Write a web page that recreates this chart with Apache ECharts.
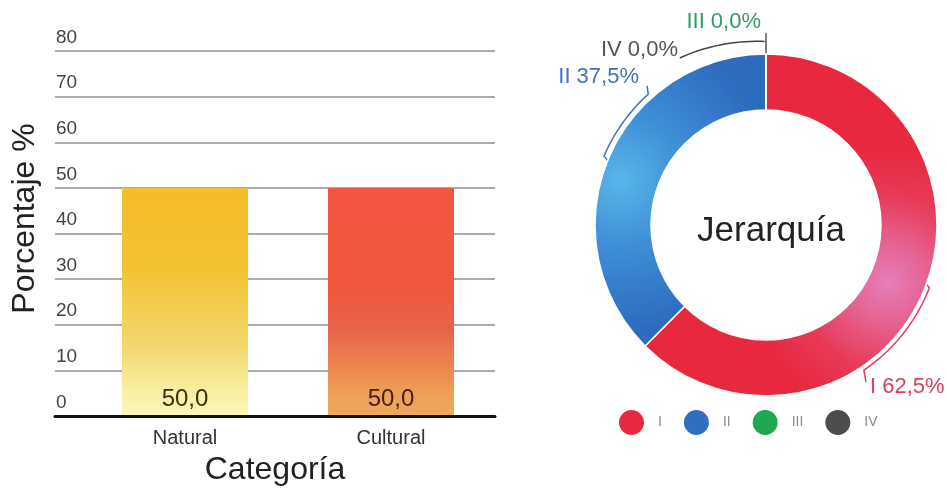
<!DOCTYPE html>
<html>
<head>
<meta charset="utf-8">
<script src="https://cdn.jsdelivr.net/npm/echarts@6/dist/echarts.min.js"></script>
<style>
  html, body { margin: 0; padding: 0; background: #fff; }
  #chart { width: 947px; height: 491px; }
</style>
</head>
<body>
<div id="chart"></div>
<script>
// Bar chart: share of sites per category
const categories = ['Natural', 'Cultural'];
const categoryShares = [50.0, 50.0];
const yMin = 0, yMax = 80, yStep = 10;

// Donut: share of sites per hierarchy level
const levels = ['I', 'II', 'III', 'IV'];
const levelShares = [62.5, 37.5, 0.0, 0.0];

const FONT = "'Liberation Sans', Arial, Helvetica, sans-serif";
const levelColors = ['#E8283F', '#2E6FC0', '#1FA84F', '#4D4D4D'];
const levelTextColors = ['#D8405C', '#3F72C0', '#2E9E5E', '#555555'];
const leaderColors = ['#D8405C', '#3F72C0', '#555555', '#444444'];

const barColors = [
  { type: 'linear', x: 0, y: 0, x2: 0, y2: 1, colorStops: [
    { offset: 0, color: '#F6BC2A' }, { offset: 0.35, color: '#F4C232' },
    { offset: 0.7, color: '#F3D870' }, { offset: 0.88, color: '#F8EEA0' },
    { offset: 1, color: '#FCF8BC' } ] },
  { type: 'linear', x: 0, y: 0, x2: 0, y2: 1, colorStops: [
    { offset: 0, color: '#F3553F' }, { offset: 0.45, color: '#F0573F' },
    { offset: 0.62, color: '#E8634A' }, { offset: 0.8, color: '#EE8850' },
    { offset: 0.9, color: '#EDA057' }, { offset: 1, color: '#EDAA5E' } ] }
];
const barLabelColors = ['#3A3010', '#4A1E10'];

// donut geometry
const PIE_CX = 766, PIE_CY = 225, R_IN = 115, R_OUT = 171;
const pieFills = [
  { type: 'radial', x: 888, y: 283, r: 135, global: true, colorStops: [
    { offset: 0, color: '#E57EBC' }, { offset: 0.3, color: '#E66290' },
    { offset: 0.65, color: '#E73A58' }, { offset: 1, color: '#E8283F' } ] },
  { type: 'radial', x: 620, y: 180, r: 150, global: true, colorStops: [
    { offset: 0, color: '#58B6E8' }, { offset: 0.45, color: '#3E8ED6' },
    { offset: 1, color: '#2D6BBF' } ] },
  levelColors[2], levelColors[3]
];

// polar helper: angle in degrees, clockwise from 12 o'clock
function polar(r, a) {
  const t = a * Math.PI / 180;
  return [PIE_CX + r * Math.sin(t), PIE_CY - r * Math.cos(t)];
}
function arc(r0, r1, a0, a1, n) {
  const pts = [];
  for (let i = 0; i <= n; i++) {
    const f = i / n;
    pts.push(polar(r0 + (r1 - r0) * f, a0 + (a1 - a0) * f));
  }
  return pts;
}
// bracket-style leader lines and label anchors per level
const leaders = [
  { pts: [polar(169, 110)].concat(arc(175, 175, 111, 146, 24), [polar(186, 147.5)]),
    x: 870, y: 387, align: 'left' },
  { pts: [polar(170, 292)].concat(arc(176, 176, 293, 318, 18), [polar(183, 319.5)]),
    x: 639, y: 77, align: 'right' },
  { pts: [polar(170, 0), polar(192, 0)], x: 761, y: 22, align: 'right' },
  { pts: arc(188, 183.5, 332.7, 359.6, 18), x: 678, y: 50, align: 'right' }
];

function fmtPct(v) { return v.toFixed(1).replace('.', ',') + '%'; }

const option = {
  animation: false,
  textStyle: { fontFamily: FONT },
  title: {
    text: 'Jerarquía', left: 766, top: 209, textAlign: 'center',
    textStyle: { fontFamily: FONT, fontSize: 35, fontWeight: 'normal', color: '#222' }
  },
  legend: {
    data: levels.map((n, i) => ({ name: n, itemStyle: { color: levelColors[i] } })),
    left: 612, top: 403, icon: 'circle',
    itemWidth: 27, itemHeight: 27, itemGap: 20,
    textStyle: { fontFamily: FONT, fontSize: 14, color: '#8c8c8c', padding: [0, 0, 0, 8] }
  },
  grid: [
    { left: 55, right: 452, top: 51, bottom: 75 },
    { left: 82, right: 453, top: 51, bottom: 75 }
  ],
  xAxis: [
    { gridIndex: 0, type: 'value', min: 0, max: 1, z: 5,
      axisLine: { show: true, lineStyle: { color: '#111', width: 3 } },
      axisTick: { show: false }, axisLabel: { show: false }, splitLine: { show: false },
      name: 'Categoría', nameLocation: 'middle', nameGap: 38,
      nameTextStyle: { fontFamily: FONT, fontSize: 32, color: '#222' } },
    { gridIndex: 1, type: 'category', data: categories,
      axisLine: { show: false }, axisTick: { show: false },
      axisLabel: { fontFamily: FONT, fontSize: 20, color: '#333', margin: 12 } }
  ],
  yAxis: [
    { gridIndex: 0, type: 'value', min: yMin, max: yMax, interval: yStep,
      axisLine: { show: false }, axisTick: { show: false },
      axisLabel: { inside: true, align: 'left', verticalAlign: 'bottom', margin: 0,
        padding: [0, 0, 4, 1], fontFamily: FONT, fontSize: 19, color: '#444' },
      splitLine: { lineStyle: { color: '#8f8f8f', width: 1.5 } },
      name: 'Porcentaje %', nameLocation: 'middle', nameGap: 14,
      nameTextStyle: { fontFamily: FONT, fontSize: 32, color: '#222', padding: [0, 0, 0, 30] } },
    { gridIndex: 1, type: 'value', min: yMin, max: yMax, interval: yStep, show: false,
      splitLine: { show: false } }
  ],
  series: [
    {
      type: 'bar', xAxisIndex: 1, yAxisIndex: 1, barWidth: 126,
      data: categoryShares.map((v, i) => ({
        value: v,
        itemStyle: { color: barColors[i] },
        label: { color: barLabelColors[i] }
      })),
      label: {
        show: true, position: 'insideBottom', distance: 5,
        fontFamily: FONT, fontSize: 24,
        formatter: p => p.value.toFixed(1).replace('.', ',')
      }
    },
    {
      type: 'pie', center: [PIE_CX, PIE_CY], radius: [R_IN, R_OUT],
      startAngle: 90, clockwise: true, avoidLabelOverlap: false,
      itemStyle: { borderColor: '#fff', borderWidth: 1.5 },
      data: levels.map((name, i) => ({
        name, value: levelShares[i],
        itemStyle: { color: pieFills[i] },
        label: { color: levelTextColors[i] },
        labelLine: { lineStyle: { color: leaderColors[i] } }
      })),
      label: {
        show: true, position: 'outside', fontFamily: FONT, fontSize: 22,
        formatter: p => p.name + ' ' + fmtPct(p.value)
      },
      labelLine: { show: true, length: 10, length2: 10, lineStyle: { width: 1.5 } },
      labelLayout: p => {
        const L = leaders[p.dataIndex];
        return { x: L.x, y: L.y, align: L.align, verticalAlign: 'middle', labelLinePoints: L.pts };
      },
      emphasis: { disabled: true }
    }
  ]
};
const chart = echarts.init(document.getElementById('chart'));
chart.setOption(option);
</script>
</body>
</html>
